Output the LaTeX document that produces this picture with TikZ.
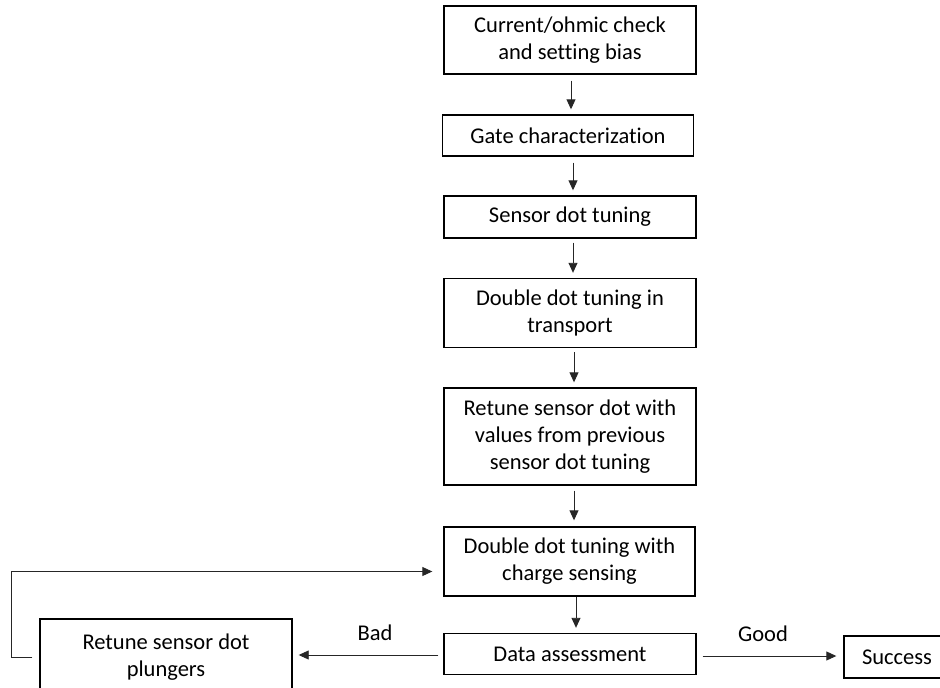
\documentclass[tikz,border=0pt]{standalone}
\usepackage{fontspec}
\setmainfont{Carlito}[Ligatures={NoCommon}]
\usetikzlibrary{arrows.meta}
\begin{document}
\begin{tikzpicture}[x=1pt,y=-1pt,
  box/.style={draw=black,line width=1.4pt,align=center,inner sep=0pt,
    font=\fontsize{22.5}{27}\selectfont},
  lbl/.style={font=\fontsize{22.5}{27}\selectfont,inner sep=0pt},
  conn/.style={draw=black!85,line width=0.9pt,-{Triangle[length=10pt,width=9pt]}}]
\useasboundingbox (0,0) rectangle (940,688);
\clip (0,0) rectangle (940,688);
\fill[white] (0,0) rectangle (940,688);
\node[box,minimum width=252pt,minimum height=68pt] (b1) at (570,40) {Current/ohmic check\\and setting bias};
\node[box,minimum width=251pt,minimum height=41pt] (b2) at (568,135.5) {Gate characterization};
\node[box,minimum width=252pt,minimum height=42pt] (b3) at (570,217) {Sensor dot tuning};
\node[box,minimum width=252pt,minimum height=69pt] (b4) at (570,313) {Double dot tuning in\\transport};
\node[box,minimum width=252pt,minimum height=97pt] (b5) at (570,436.5) {Retune sensor dot with\\values from previous\\sensor dot tuning};
\node[box,minimum width=251pt,minimum height=69pt] (b6) at (569.5,561.5) {Double dot tuning with\\charge sensing};
\node[box,minimum width=252pt,minimum height=41pt] (b7) at (570,654) {Data assessment};
\node[box,minimum width=252pt,minimum height=76pt] (b8) at (166,657) {Retune sensor dot\\plungers};
\node[box,minimum width=106pt,minimum height=42pt] (b9) at (897,657) {Success};
\draw[conn,shorten <=6pt,shorten >=5pt] ([xshift=1pt]b1.south) -- ([xshift=3pt]b2.north);
\draw[conn,shorten <=6pt,shorten >=5pt] ([xshift=5pt]b2.south) -- ([xshift=3pt]b3.north);
\draw[conn,shorten <=4pt,shorten >=5pt] ([xshift=3pt]b3.south) -- ([xshift=3pt]b4.north);
\draw[conn,shorten <=4pt,shorten >=5pt] ([xshift=4pt]b4.south) -- ([xshift=4pt]b5.north);
\draw[conn,shorten <=5pt,shorten >=6pt] ([xshift=4pt]b5.south) -- ([xshift=4.5pt]b6.north);
\draw[conn,shorten <=0pt,shorten >=5pt] ([xshift=6.5pt]b6.south) -- ([xshift=6pt]b7.north);
\draw[conn,shorten <=5pt,shorten >=6pt] ([yshift=-1pt]b7.west) -- ([yshift=2pt]b8.east);
\draw[conn,shorten <=6pt,shorten >=7pt] ([yshift=-2pt]b7.east) -- ([yshift=1pt]b9.west);
\draw[conn,shorten <=7pt,shorten >=11pt] (b8.west) -- ++(-28,0) |- ([yshift=-10pt]b6.west);
\node[lbl] (bad) at (375,633) {Bad};
\node[lbl] (good) at (763,634) {Good};
\end{tikzpicture}
\end{document}
